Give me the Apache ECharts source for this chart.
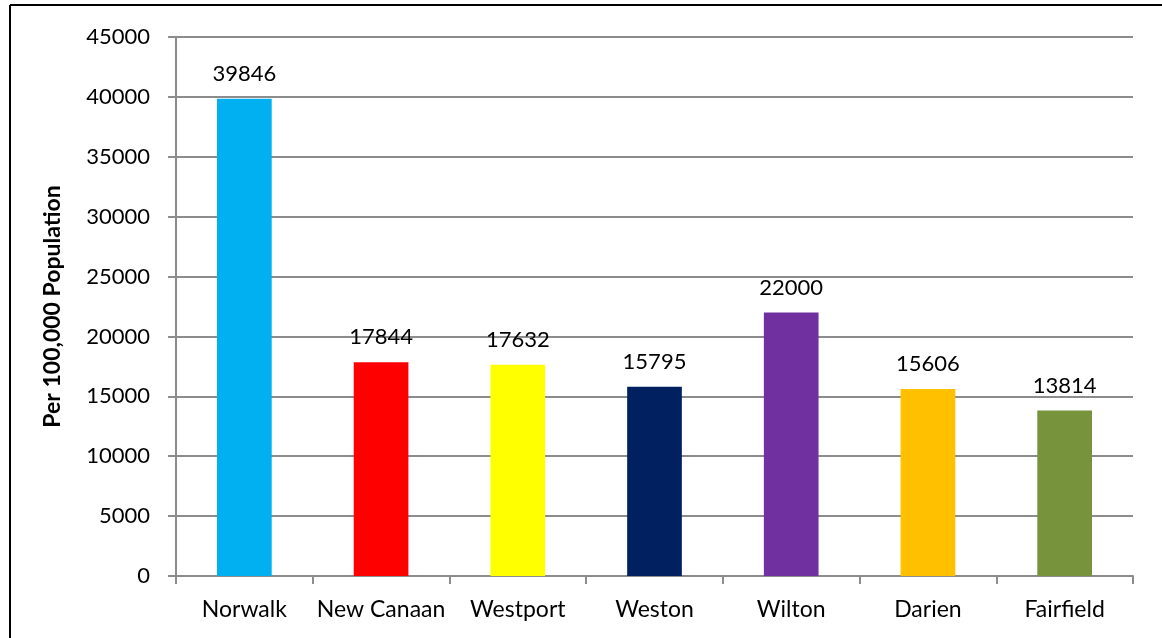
<!DOCTYPE html>
<html>
<head>
<meta charset="utf-8">
<script src="https://cdn.jsdelivr.net/npm/echarts@6/dist/echarts.min.js"></script>
<style>
  html, body { margin: 0; padding: 0; background: #fff; }
  #chart { width: 1162px; height: 638px; }
</style>
</head>
<body>
<div id="chart"></div>
<script>
// towns and per 100,000 values
const towns = ['Norwalk', 'New Canaan', 'Westport', 'Weston', 'Wilton', 'Darien', 'Fairfield'];
const rates = [39846, 17844, 17632, 15795, 22000, 15606, 13814];
const barColors = ['#00B0F0', '#FF0000', '#FFFF00', '#002060', '#7030A0', '#FFC000', '#77933C'];

const font = 'Lato, "Open Sans", sans-serif';

const chart = echarts.init(document.getElementById('chart'));
chart.setOption({
  animation: false,
  graphic: [
    // frame round the chart (top and left edges show)
    { type: 'line', shape: { x1: 10, y1: 5, x2: 1162, y2: 5 }, style: { stroke: '#000', lineWidth: 2 } },
    { type: 'line', shape: { x1: 10, y1: 5, x2: 10, y2: 638 }, style: { stroke: '#000', lineWidth: 2 } }
  ],
  grid: { left: 176, right: 29, top: 37, bottom: 62 },
  xAxis: {
    type: 'category',
    data: towns,
    axisLine: { lineStyle: { color: '#8c8c8c', width: 2 } },
    axisTick: { show: true, length: 8, lineStyle: { color: '#8c8c8c', width: 2 } },
    axisLabel: { color: '#000', fontSize: 23, fontFamily: font, margin: 22, interval: 0 }
  },
  yAxis: {
    type: 'value',
    min: 0,
    max: 45000,
    interval: 5000,
    name: 'Per 100,000 Population',
    nameLocation: 'middle',
    nameGap: 112,
    nameTextStyle: { color: '#000', fontSize: 23, fontWeight: 'bold', fontFamily: font },
    axisLine: { show: true, lineStyle: { color: '#8c8c8c', width: 2 } },
    axisTick: { show: true, length: 8, lineStyle: { color: '#8c8c8c', width: 2 } },
    axisLabel: { color: '#000', fontSize: 22, fontFamily: font, margin: 26, formatter: v => String(v) },
    splitLine: { lineStyle: { color: '#8c8c8c', width: 2 } }
  },
  series: [{
    type: 'bar',
    barWidth: '40%',
    data: rates.map((v, i) => ({ value: v, itemStyle: { color: barColors[i] } })),
    label: {
      show: true,
      position: 'top',
      distance: 14,
      color: '#000',
      fontSize: 22,
      fontFamily: font
    }
  }]
});
</script>
</body>
</html>
